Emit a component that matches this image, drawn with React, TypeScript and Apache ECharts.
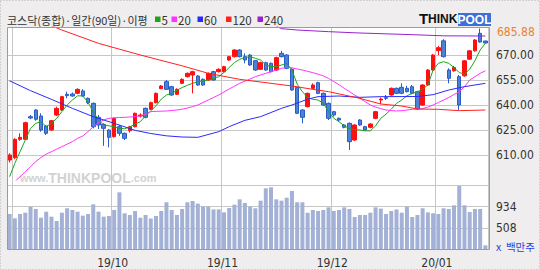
import React, { useEffect, useRef } from 'react';
import * as echarts from 'echarts';

// 92 trading days (19/08/30 .. 20/01/15)
const monthStarts = [1, 20, 41, 62, 82];
const monthLabelIdx = [20, 41, 62, 82];
const monthLabels = ['19/10', '19/11', '19/12', '20/01'];

// [open, close, low, high]
const candles: number[][] = [
  [607, 610, 605.5, 611], [608.4, 619.4, 607.5, 620], [619.4, 620.6, 618.5, 623], [619.4, 629.4, 619, 630],
  [633, 632.2, 631.5, 634], [637, 631.4, 630.5, 637.5], [633.4, 625, 624, 635], [627.4, 623, 622, 628],
  [625, 630.6, 624.5, 631], [634, 638, 633.4, 639], [637, 645, 636.5, 645.5], [646.4, 645.6, 644, 648],
  [646.6, 645.4, 645, 647.5], [647, 649.4, 646.5, 650], [648.4, 645.4, 645, 649.5], [644, 641.4, 640.5, 644.5],
  [641, 627, 626, 641.5], [632.6, 628, 625.6, 634], [628.4, 626, 615.5, 629], [625, 620.6, 614.6, 625.5],
  [621, 632, 620.5, 632.5], [627, 623, 621.5, 628], [623, 620, 619, 623.5], [624.6, 627, 623.5, 627.5],
  [627, 635, 626.5, 635.5], [633.4, 634, 632.5, 635], [638, 632.6, 632, 638.5], [637.4, 641.4, 637, 642],
  [641.4, 647, 641, 647.5], [649.8, 651.4, 649.5, 652], [654, 649.4, 649, 655], [651, 646, 645.5, 651.5],
  [646.4, 649.4, 646, 650], [653, 655.4, 652.5, 656], [657, 659, 656.5, 659.5], [658, 660, 647, 660.5],
  [657.4, 652, 651.5, 658], [655.4, 652, 651.5, 656], [655, 659, 654.5, 659.5], [660, 655, 654.5, 660.5],
  [660, 661.4, 659.5, 662], [660, 663, 659.5, 663.5], [667, 669, 666.5, 669.5], [669, 673, 668.5, 673.5],
  [673, 669, 668.5, 673.5], [669, 667, 665, 671], [670, 664, 663.5, 670.5], [666.6, 661, 660.5, 667],
  [661.4, 665.4, 661, 666], [665.4, 661, 660.5, 666], [665, 660, 659.5, 665.5], [661, 668.4, 660.5, 669],
  [671, 669, 668.5, 672.5], [670, 662, 661.5, 670.5], [661.4, 649, 648.5, 662], [650.6, 635, 634.5, 651],
  [637, 632.6, 629, 637.5], [639, 647, 638.5, 647.5], [650, 652, 649.5, 653], [653.4, 647, 646.5, 654],
  [647, 640, 639.5, 647.5], [641, 632, 631, 641.5], [636, 634, 633, 636.5], [632, 631, 630, 632.5],
  [628, 626.6, 626, 628.5], [629, 618, 613, 629.5], [619, 628, 618.5, 628.5], [631, 628, 627.5, 631.5],
  [627, 625, 624.5, 627.5], [626.6, 628.6, 626, 629], [632, 636, 631.5, 636.5], [643, 643.6, 640.5, 644.5],
  [644.4, 644, 643, 646], [646, 650, 645.5, 650.5], [650, 647, 646.5, 650.5], [650.6, 647, 646.5, 653],
  [650, 648, 647.5, 651.5], [651, 647, 646.5, 652], [648, 637.6, 637, 648.5], [640, 652, 639.5, 652.5],
  [652, 661, 651.5, 661.5], [661, 670, 660.5, 670.5], [672.6, 674.4, 670, 675.5], [678.5, 669, 668.5, 679.5],
  [661, 656, 653, 662], [660.5, 662.5, 660, 663.5], [657, 640, 637, 658], [657.5, 666.5, 657, 667],
  [667.5, 672.5, 667, 673], [672.5, 679, 672, 679.5], [683, 677.8, 677.4, 685.88], [678.4, 677.2, 676.8, 678.6],
];

// volume, million shares
const volume = [
  790, 705, 790, 815, 933, 888, 717, 835, 737, 652,
  815, 902, 868, 835, 757, 790, 980, 835, 737, 750,
  868, 1216, 803, 770, 848, 717, 770, 700, 750, 848,
  1020, 868, 770, 888, 1020, 1045, 993, 933, 933, 880,
  880, 822, 908, 973, 1078, 1006, 933, 902, 1052, 1295,
  1314, 1078, 1052, 1110, 1242, 1020, 1020, 815, 868, 848,
  868, 920, 848, 868, 920, 888, 730, 770, 770, 815,
  920, 895, 790, 848, 880, 815, 933, 730, 770, 902,
  822, 803, 790, 902, 888, 960, 1340, 960, 828, 888,
  888, 174,
];

const ma5 = [
  597, 605, 612, 619, 626, 629, 630, 627, 629, 632,
  636, 640, 643, 645.5, 645.5, 641.5, 636, 631, 628, 627.5,
  627, 626, 625.8, 626.8, 628.5, 630, 633.5, 636.5, 639.5, 643.5,
  646, 647, 648.8, 650.5, 651.8, 653, 654, 654.5, 655, 656,
  657, 659.5, 662.5, 665.5, 667.4, 668.5, 669, 668, 667, 664,
  663, 663, 664, 665, 661, 652.5, 648, 644.5, 643.4, 643,
  641, 636, 632, 630, 627.5, 625.8, 625.2, 625, 624.5, 624.5,
  627.5, 632, 634.5, 637.5, 641, 643, 645.5, 647, 648, 649.5,
  652, 661, 665, 666, 665, 662.5, 659.5, 658.5, 661.5, 666.5,
  673, 677,
];

const ma20 = [
  591, 594, 597, 600, 603, 606, 608.5, 610.5, 612, 613.5,
  615, 616.5, 618, 620, 621.4, 624, 627, 629.5, 631, 632,
  632.3, 632.5, 632.6, 632.8, 633, 633.4, 634.5, 636, 636.2, 636.3,
  636.4, 636.7, 637, 637.5, 638.2, 639, 640, 641.5, 643, 644.5,
  646, 647.8, 649.6, 651.3, 653, 654.3, 655.6, 657, 658, 659,
  660, 661, 662, 662.6, 662.3, 661.6, 661, 660.2, 659.4, 658.5,
  657.5, 656, 654, 652.2, 650, 648, 646, 644, 642, 640,
  638.8, 637.8, 637, 636.7, 636.4, 636.6, 637, 637.4, 637.6, 637.8,
  638.8, 640, 641.5, 643, 644.5, 646.3, 648, 651, 655, 657,
  659, 660.5,
];

// [dayIndex, value] read at points along the smooth averages
const ma60Pts = [
  [0, 654.5], [4, 648.6], [8, 643.4], [12, 638], [16, 633], [20, 629], [24, 624.8], [27, 622.9],
  [30, 621.5], [33, 620.8], [36, 620.6], [40, 624], [42, 627], [45, 630.8], [48, 633], [52, 638],
  [54, 640], [57, 643.5], [59, 645], [63, 645.4], [67, 644.6], [71, 645], [78, 645.1], [81, 646.2],
  [84, 649], [87, 651], [91, 653],
];
const ma120Pts = [
  [8, 687.5], [10, 685], [17, 677], [25, 670], [33, 663.5], [38, 659], [44, 655.4], [50, 653],
  [54, 651.4], [58, 649.4], [61, 648], [64, 646], [67, 644], [71, 640.6], [75, 639.4], [78, 637.6],
  [82, 637.4], [86, 636.6], [91, 637],
];
const ma240Pts = [
  [51, 687.2], [52, 685.8], [55, 685], [61, 684], [67, 683.2], [77, 682.2], [83, 681.5], [91, 681.4],
];

const priceTicks = [610, 625, 640, 655, 670];
const volumeTicks = [508, 934];
const volumeTop = 1360;
const periodHigh = 685.88;

const maNames = ['5', '20', '60', '120', '240'];
const maColors = ['#1fa31f', '#ff33ff', '#2a2aff', '#ff2020', '#9922cc'];

const NUM_FONT = '"Liberation Sans Narrow", "DejaVu Sans Condensed", "Liberation Sans", sans-serif';
const KR_FONT = '"Noto Sans CJK KR", sans-serif';

export default function App() {
  const ref = useRef<HTMLDivElement>(null);
  useEffect(() => {
    document.body.style.margin = '0';
    if (!ref.current) return;
    const chart = echarts.init(ref.current, undefined, { renderer: 'svg' });
    const cats = candles.map((_, i) => String(i));

    const legendX = [155, 171.5, 197.5, 226, 257.5];
    const legendEls: any[] = [];
    maNames.forEach((n, k) => {
      legendEls.push({ type: 'rect', shape: { x: legendX[k], y: 16.5, width: 5.5, height: 5.5 }, style: { fill: maColors[k] }, silent: true });
      legendEls.push({
        type: 'text', x: legendX[k] + 6.5, y: 19.5, silent: true,
        style: { text: n, fill: '#333', font: `11.5px ${KR_FONT}`, textAlign: 'left', textVerticalAlign: 'middle', align: 'left', verticalAlign: 'middle' },
      });
    });

    const option: any = {
      animation: false,
      backgroundColor: 'transparent',
      grid: [
        { left: 7, top: 27, width: 481, height: 153 },
        { left: 7, top: 180, width: 481, height: 70 },
      ],
      xAxis: [
        {
          type: 'category', gridIndex: 0, data: cats, boundaryGap: true,
          axisLine: { show: false }, axisTick: { show: false }, axisLabel: { show: false },
          splitLine: { show: true, interval: (i: number) => monthStarts.includes(i), lineStyle: { color: '#c6c6c6', width: 1 } },
        },
        {
          type: 'category', gridIndex: 1, data: cats, boundaryGap: true,
          axisLine: { show: false }, axisTick: { show: false },
          axisLabel: {
            show: true, interval: (i: number) => monthLabelIdx.includes(i),
            formatter: (_v: string, i: number) => { const k = monthLabelIdx.indexOf(i); return k >= 0 ? monthLabels[k] : ''; },
            color: '#333', fontSize: 12, fontFamily: NUM_FONT, margin: 7, padding: [0, 3, 0, 0],
          },
          splitLine: { show: true, interval: (i: number) => monthStarts.includes(i), lineStyle: { color: '#c6c6c6', width: 1 } },
        },
      ],
      yAxis: [
        { type: 'value', gridIndex: 0, min: 595, max: 686.8, axisLine: { show: false }, axisTick: { show: false }, axisLabel: { show: false }, splitLine: { show: false } },
        { type: 'value', gridIndex: 1, min: 82, max: 1458, axisLine: { show: false }, axisTick: { show: false }, axisLabel: { show: false }, splitLine: { show: false } },
      ],
      series: [
        {
          type: 'candlestick', xAxisIndex: 0, yAxisIndex: 0, data: candles, barWidth: 4,
          itemStyle: { color: '#ff1010', borderColor: '#ff1010', color0: '#4a82d8', borderColor0: '#2a5cc8', borderWidth: 1 },
          markLine: {
            silent: true, symbol: 'none', z: 1, animation: false,
            lineStyle: { color: '#c6c6c6', type: 'solid', width: 1 },
            label: { position: 'end', distance: 8, color: '#333', fontSize: 12, fontFamily: NUM_FONT, formatter: (p: any) => Number(p.value).toFixed(2) },
            emphasis: { disabled: true },
            data: priceTicks.map((v) => ({ yAxis: v })),
          },
        },
        { name: maNames[0], type: 'line', xAxisIndex: 0, yAxisIndex: 0, data: ma5, showSymbol: false, symbol: 'none', lineStyle: { color: maColors[0], width: 1 }, silent: true },
        { name: maNames[1], type: 'line', xAxisIndex: 0, yAxisIndex: 0, data: ma20, showSymbol: false, symbol: 'none', lineStyle: { color: maColors[1], width: 1 }, silent: true },
        { name: maNames[2], type: 'line', xAxisIndex: 0, yAxisIndex: 0, data: ma60Pts, showSymbol: false, symbol: 'none', lineStyle: { color: maColors[2], width: 1 }, silent: true },
        { name: maNames[3], type: 'line', xAxisIndex: 0, yAxisIndex: 0, data: ma120Pts, showSymbol: false, symbol: 'none', lineStyle: { color: maColors[3], width: 1 }, silent: true },
        { name: maNames[4], type: 'line', xAxisIndex: 0, yAxisIndex: 0, data: ma240Pts, showSymbol: false, symbol: 'none', lineStyle: { color: maColors[4], width: 1 }, silent: true },
        {
          type: 'bar', xAxisIndex: 1, yAxisIndex: 1, data: volume, barWidth: 4,
          itemStyle: { color: '#a3b1d6' }, silent: true,
          markLine: {
            silent: true, symbol: 'none', z: 1, animation: false,
            lineStyle: { color: '#c6c6c6', type: 'solid', width: 1 },
            label: { position: 'end', distance: 8, color: '#333', fontSize: 12, fontFamily: NUM_FONT, formatter: (p: any) => String(p.value) },
            emphasis: { disabled: true },
            data: [...volumeTicks.map((v) => ({ yAxis: v })), { yAxis: volumeTop, label: { show: false } }],
          },
        },
      ],
      graphic: [
        { type: 'rect', z: -1, silent: true, shape: { x: 7, y: 27, width: 483, height: 223 }, style: { fill: '#ffffff' } },
        { type: 'rect', z: 100, silent: true, shape: { x: 7.5, y: 27.5, width: 482, height: 222 }, style: { fill: 'none', stroke: '#9c9c9c', lineWidth: 1 } },
        { type: 'rect', z: 100, silent: true, shape: { x: 0.5, y: 0.5, width: 539, height: 269 }, style: { fill: 'none', stroke: '#b4b4b4', lineWidth: 1, lineDash: [1, 2] } },
        {
          type: 'text', x: 7, y: 19.5, silent: true,
          style: { text: '코스닥(종합)·일간(90일)·이평', fill: '#333', font: `11px ${KR_FONT}`, textAlign: 'left', textVerticalAlign: 'middle', align: 'left', verticalAlign: 'middle' },
        },
        ...legendEls,
        {
          type: 'text', x: 419, y: 25.5, silent: true,
          style: { text: 'T', fill: '#111', font: `bold 15px "Liberation Sans", sans-serif`, textAlign: 'left', textVerticalAlign: 'bottom', align: 'left', verticalAlign: 'bottom' },
        },
        {
          type: 'text', x: 428, y: 25, silent: true,
          style: { text: 'HINK', fill: '#111', font: `bold 12px "Liberation Sans", sans-serif`, textAlign: 'left', textVerticalAlign: 'bottom', align: 'left', verticalAlign: 'bottom' },
        },
        { type: 'rect', silent: true, shape: { x: 458, y: 13, width: 33, height: 13 }, style: { fill: '#3b6fd9' } },
        {
          type: 'text', x: 474.5, y: 19.8, silent: true,
          style: { text: 'POOL', fill: '#ffffff', font: `bold 12px "Liberation Sans", sans-serif`, textAlign: 'center', textVerticalAlign: 'middle', align: 'center', verticalAlign: 'middle' },
        },
        {
          type: 'text', x: 20, y: 178, silent: true, z: -1,
          style: {
            text: '{a|www.}{b|THINKPOOL}{a|.com}', textAlign: 'left', textVerticalAlign: 'middle', align: 'left', verticalAlign: 'middle',
            rich: {
              a: { fill: '#d2d2d2', color: '#d2d2d2', font: `bold 11px "Liberation Sans", sans-serif` },
              b: { fill: '#d2d2d2', color: '#d2d2d2', font: `bold 14px "Liberation Sans", sans-serif` },
            },
          },
        },
        {
          type: 'text', x: 497, y: 31.5, silent: true,
          style: { text: periodHigh.toFixed(2), fill: '#e8842c', font: `12px ${NUM_FONT}`, textAlign: 'left', textVerticalAlign: 'middle', align: 'left', verticalAlign: 'middle' },
        },
        {
          type: 'text', x: 496, y: 246.5, silent: true,
          style: { text: 'x  백만주', fill: '#2a3fe0', font: `10.5px ${KR_FONT}`, textAlign: 'left', textVerticalAlign: 'middle', align: 'left', verticalAlign: 'middle' },
        },
      ],
    };
    chart.setOption(option);
    return () => chart.dispose();
  }, []);
  return <div ref={ref} style={{ position: 'fixed', left: 0, top: 0, width: 540, height: 270, background: '#efeded' }} />;
}
